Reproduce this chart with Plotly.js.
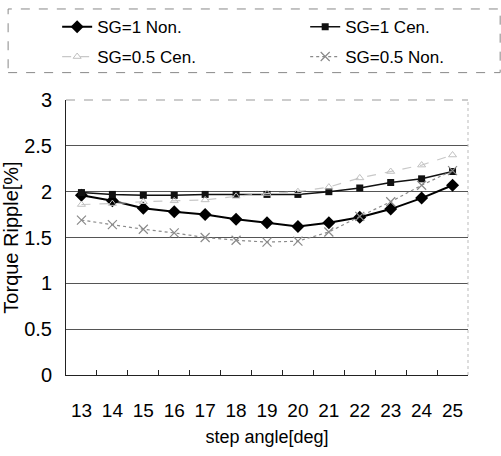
<!DOCTYPE html>
<html>
<head>
<meta charset="utf-8">
<script src="https://cdn.plot.ly/plotly-3.0.1.min.js"></script>
<style>html,body{margin:0;padding:0;background:#fff;}#chart{width:501px;height:456px;}</style>
</head>
<body>
<div id="chart"></div>
<script>
const stepAngle = [13, 14, 15, 16, 17, 18, 19, 20, 21, 22, 23, 24, 25];
const sg1Non   = [1.96, 1.90, 1.82, 1.78, 1.75, 1.70, 1.66, 1.62, 1.66, 1.72, 1.81, 1.93, 2.07];
const sg1Cen   = [1.99, 1.97, 1.96, 1.96, 1.97, 1.97, 1.97, 1.97, 2.00, 2.04, 2.10, 2.14, 2.22];
const sg05Cen  = [1.86, 1.87, 1.89, 1.90, 1.91, 1.95, 1.98, 2.00, 2.05, 2.15, 2.22, 2.29, 2.40];
const sg05Non  = [1.69, 1.64, 1.59, 1.55, 1.50, 1.47, 1.45, 1.46, 1.56, 1.73, 1.89, 2.07, 2.23];
const yTicks = [0, 0.5, 1, 1.5, 2, 2.5, 3];
const seriesNames = ["SG=1 Non.", "SG=1 Cen.", "SG=0.5 Cen.", "SG=0.5 Non."];

const FONT = "'Liberation Sans Narrow', 'Arial Narrow', 'Liberation Sans', Arial, sans-serif";

const traces = [
  {x: stepAngle, y: sg1Non, name: seriesNames[0], legend: "legend", mode: "lines+markers",
   line: {color: "#000", width: 2}, marker: {symbol: "diamond", size: 10, color: "#000"}},
  {x: stepAngle, y: sg1Cen, name: seriesNames[1], legend: "legend2", mode: "lines+markers",
   line: {color: "#111", width: 1.5}, marker: {symbol: "square", size: 7, color: "#111"}},
  {x: stepAngle, y: sg05Cen, name: seriesNames[2], legend: "legend3", mode: "lines+markers",
   line: {color: "#c8c8c8", width: 1.2, dash: "dash"}, marker: {symbol: "triangle-up-open", size: 7, color: "#c0c0c0"}},
  {x: stepAngle, y: sg05Non, name: seriesNames[3], legend: "legend4", mode: "lines+markers",
   line: {color: "#8a8a8a", width: 1.2, dash: "dot"}, marker: {symbol: "x-thin-open", size: 9, color: "#8a8a8a", line: {width: 1.2, color: "#8a8a8a"}}}
];

const bounds = [];
for (let i = 0; i <= stepAngle.length; i++) bounds.push(stepAngle[0] - 0.5 + i);
traces.push({x: [stepAngle[0]], y: [0], xaxis: "x2", yaxis: "y", mode: "markers",
  marker: {opacity: 0}, showlegend: false, hoverinfo: "skip"});

function leg(x, y) {
  return {x: x, y: y, xref: "paper", yref: "container", xanchor: "left", yanchor: "top",
    font: {family: FONT, size: 17, color: "#000"}, bgcolor: "rgba(0,0,0,0)", borderwidth: 0};
}

const layout = {
  width: 501, height: 456,
  margin: {l: 66, r: 33, t: 99.5, b: 80.5},
  paper_bgcolor: "#fff", plot_bgcolor: "#fff",
  font: {family: FONT, color: "#000", size: 18},
  showlegend: true,
  legend: leg(-0.022, 0.980),
  legend2: leg(0.595, 0.980),
  legend3: leg(-0.022, 0.9145),
  legend4: leg(0.595, 0.9145),
  xaxis: {range: [stepAngle[0] - 0.5, stepAngle[stepAngle.length - 1] + 0.5],
    tickvals: stepAngle, ticktext: stepAngle.map(String), ticks: "",
    showgrid: false, zeroline: false, showline: true, linecolor: "#222", linewidth: 1,
    tickfont: {family: FONT, size: 19}, ticklabelstandoff: 18,
    title: {text: "step angle[deg]", font: {family: FONT, size: 18}, standoff: 10}},
  xaxis2: {overlaying: "x", range: [stepAngle[0] - 0.5, stepAngle[stepAngle.length - 1] + 0.5],
    tickvals: bounds, ticks: "inside", ticklen: 5, tickcolor: "#222", showticklabels: false,
    showgrid: false, zeroline: false, showline: false, anchor: "y", side: "bottom"},
  yaxis: {range: [0, 3], tickvals: yTicks, ticktext: yTicks.map(String), ticks: "",
    showgrid: true, gridcolor: "#555", gridwidth: 1, zeroline: false,
    showline: true, linecolor: "#222", linewidth: 1,
    tickfont: {family: FONT, size: 20}, ticklabelstandoff: 9,
    title: {text: "Torque Ripple[%]", font: {family: FONT, size: 20}, standoff: 3}},
  shapes: [
    {type: "line", xref: "paper", yref: "paper", x0: 0, x1: 1, y0: 1, y1: 1,
     line: {color: "#999", width: 1, dash: "dash"}},
    {type: "line", xref: "paper", yref: "paper", x0: 1, x1: 1, y0: 0, y1: 1,
     line: {color: "#bbb", width: 1, dash: "dot"}},
    {type: "rect", xref: "paper", yref: "paper", x0: -0.144, x1: 1.08, y0: 1.0996, y1: 1.331,
     line: {color: "#888", width: 1, dash: "dash"}}
  ]
};

Plotly.newPlot("chart", traces, layout, {displayModeBar: false, staticPlot: true});
</script>
</body>
</html>
